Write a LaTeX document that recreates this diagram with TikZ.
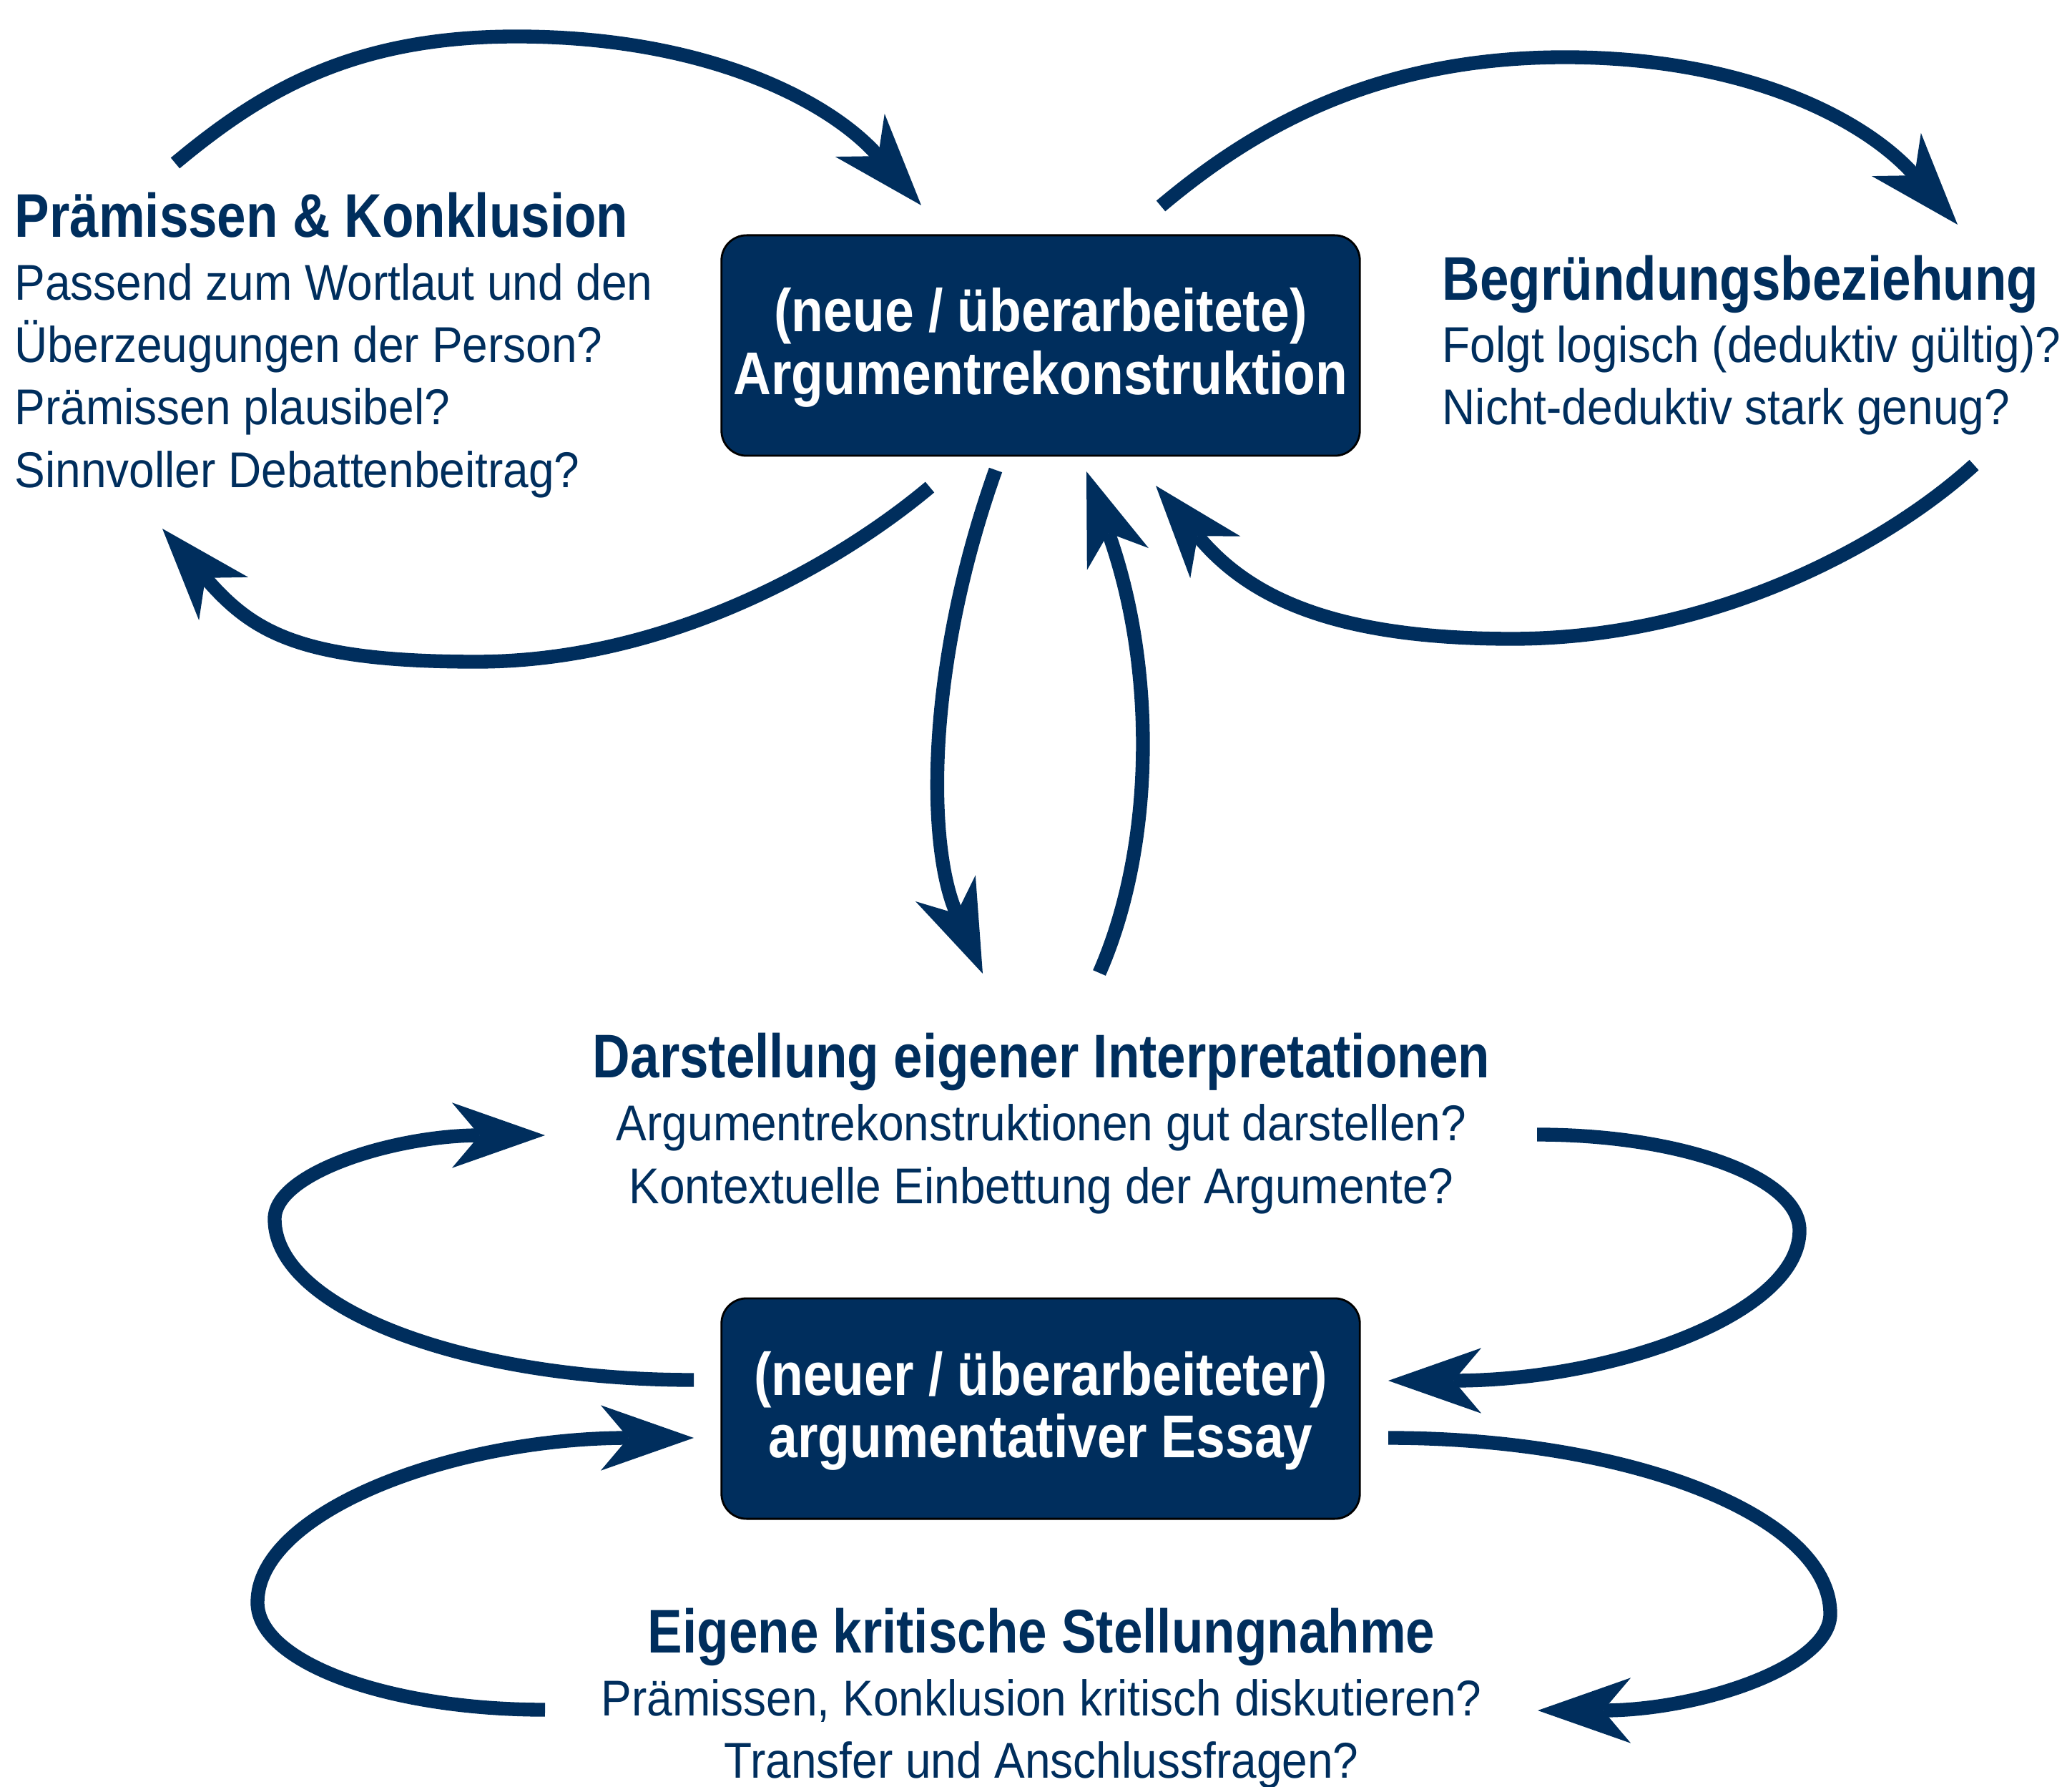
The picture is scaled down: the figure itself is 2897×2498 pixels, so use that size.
\documentclass[tikz,border=0pt]{standalone}
\usepackage{fontspec}
\usetikzlibrary{arrows.meta}
\newfontfamily\rfont[FakeStretch=0.91]{Liberation Sans}
\newfontfamily\bfont[FakeStretch=0.845]{Liberation Sans}
\newfontfamily\xfont[FakeStretch=0.868]{Liberation Sans}
\definecolor{navy}{RGB}{0,46,93}
\tikzset{
  hd/.style={font=\bfont\bfseries\fontsize{24.5pt}{29pt}\selectfont, text=navy, inner sep=0pt},
  bd/.style={font=\rfont\fontsize{20pt}{24pt}\selectfont, text=navy, inner sep=0pt},
  bxt/.style={font=\xfont\bfseries\fontsize{24pt}{28pt}\selectfont, text=white, inner sep=0pt, anchor=base},
  box/.style={draw=black, line width=0.8pt, fill=navy, rounded corners=10pt, minimum width=8.92cm, minimum height=3.08cm, inner sep=0pt},
  arr/.style={draw=navy, line width=5.5pt, -{Stealth[length=37pt,width=26pt,inset=11pt,line width=0pt]}},
}
\begin{document}
\begin{tikzpicture}[x=0.01cm,y=-0.01cm]
\useasboundingbox (0,0) rectangle (2897,2498);
% boxes
\node[box] (box1) at (1455,483) {};
\node[box] (box2) at (1455,1969) {};
\node[bxt] (b1a) at (1455,464) {(neue / überarbeitete)};
\node[bxt] (b1b) at (1455,552) {Argumentrekonstruktion};
\node[bxt] (b2a) at (1455,1950) {(neuer / überarbeiteter)};
\node[bxt] (b2b) at (1455,2037) {argumentativer Essay};
% left block
\node[hd, anchor=base west] (l0) at (20,332) {Prämissen \& Konklusion};
\node[bd, anchor=base west] (l1) at (20,420) {Passend zum Wortlaut und den};
\node[bd, anchor=base west] (l2) at (20,507) {Überzeugungen der Person?};
\node[bd, anchor=base west] (l3) at (20,594) {Prämissen plausibel?};
\node[bd, anchor=base west] (l4) at (20,682) {Sinnvoller Debattenbeitrag?};
% right block
\node[hd, anchor=base west] (r0) at (2016,420) {Begründungsbeziehung};
\node[bd, anchor=base west] (r1) at (2016,507) {Folgt logisch (deduktiv gültig)?};
\node[bd, anchor=base west] (r2) at (2016,594) {Nicht-deduktiv stark genug?};
% middle block
\node[hd, anchor=base] (m0) at (1456,1506) {Darstellung eigener Interpretationen};
\node[bd, anchor=base] (m1) at (1456,1594) {Argumentrekonstruktionen gut darstellen?};
\node[bd, anchor=base] (m2) at (1456,1682) {Kontextuelle Einbettung der Argumente?};
% bottom block
\node[hd, anchor=base] (e0) at (1456,2310) {Eigene kritische Stellungnahme};
\node[bd, anchor=base] (e1) at (1456,2398) {Prämissen, Konklusion kritisch diskutieren?};
\node[bd, anchor=base] (e2) at (1456,2485) {Transfer und Anschlussfragen?};
% arrow end points
\coordinate (tlS) at (245,228);  \coordinate (tlP) at (722,51);   \coordinate (tlT) at (1288,287);
\coordinate (trS) at (1623,288); \coordinate (trP) at (2188,80);  \coordinate (trT) at (2737,314);
\coordinate (llS) at (1300,681); \coordinate (llP) at (666,925);  \coordinate (llT) at (227,739);
\coordinate (rlS) at (2760,650); \coordinate (rlP) at (2114,893); \coordinate (rlT) at (1616,679);
\coordinate (dS) at (1392,657);  \coordinate (dT) at (1374,1361);
\coordinate (uS) at (1537,1360); \coordinate (uT) at (1519,659);
\coordinate (mlS) at (970,1929); \coordinate (mlP) at (384,1704); \coordinate (mlT) at (762,1587);
\coordinate (mrS) at (2149,1586);\coordinate (mrP) at (2516,1720);\coordinate (mrT) at (1941,1930);
\coordinate (blS) at (762,2390); \coordinate (blP) at (360,2240); \coordinate (blT) at (970,2010);
\coordinate (brS) at (1941,2010);\coordinate (brP) at (2559,2256);\coordinate (brT) at (2150,2391);
% arrows
\draw[arr] (tlS) .. controls (365,128) and (492,51) .. (tlP) .. controls (992,51) and (1163,144) .. (tlT);
\draw[arr] (trS) .. controls (1748,183) and (1918,80) .. (trP) .. controls (2448,80) and (2612,171) .. (trT);
\draw[arr] (llS) .. controls (1175,786) and (936,925) .. (llP) .. controls (416,925) and (352,882) .. (llT);
\draw[arr] (rlS) .. controls (2645,755) and (2404,893) .. (rlP) .. controls (1854,893) and (1741,829) .. (rlT);
\draw[arr] (dS) .. controls (1295,930) and (1295,1180) .. (dT);
\draw[arr] (uS) .. controls (1616,1180) and (1616,930) .. (uT);
\draw[arr] (mlS) .. controls (646,1929) and (384,1828) .. (mlP) .. controls (384,1639) and (553,1587) .. (mlT);
\draw[arr] (mrS) .. controls (2352,1586) and (2516,1646) .. (mrP) .. controls (2516,1836) and (2258,1930) .. (mrT);
\draw[arr] (blS) .. controls (540,2390) and (360,2323) .. (blP) .. controls (360,2113) and (633,2010) .. (blT);
\draw[arr] (brS) .. controls (2282,2010) and (2559,2120) .. (brP) .. controls (2559,2330) and (2376,2391) .. (brT);
\end{tikzpicture}
\end{document}
